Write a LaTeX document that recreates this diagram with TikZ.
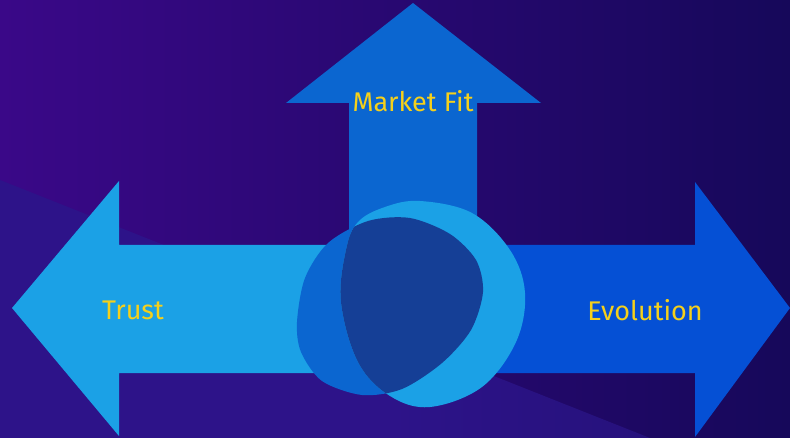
\documentclass[tikz,border=0pt]{standalone}
\usepackage{fontspec}
\setmainfont{Fira Sans}
\definecolor{bgleft}{HTML}{3A0888}
\definecolor{bgright}{HTML}{16085A}
\definecolor{bandedge}{HTML}{2A2AAE}
\definecolor{bandmid}{HTML}{2D1389}
\definecolor{bandright}{HTML}{1D0F6C}
\definecolor{upblue}{HTML}{0B66D0}
\definecolor{skyblue}{HTML}{1BA1E6}
\definecolor{deepblue}{HTML}{0550D5}
\definecolor{navyblue}{HTML}{153F96}
\definecolor{labelyellow}{HTML}{F5D01B}
\pgfdeclarehorizontalshading{bandshade}{100bp}{color(0bp)=(bandedge); color(8bp)=(bandmid); color(55bp)=(bandmid); color(100bp)=(bandright)}
\begin{document}
\begin{tikzpicture}[x=1pt,y=-1pt,
    label/.style={text=labelyellow,font=\fontsize{27}{32}\selectfont,inner sep=0pt}]
  \useasboundingbox (0,0) rectangle (790,438);
  % background
  \shade[left color=bgleft,right color=bgright] (0,0) rectangle (790,438);
  \shade[shading=bandshade] (0,180) -- (650,438) -- (0,438) -- cycle;
  % arrows
  \fill[upblue] (413,3) -- (541,103) -- (477,103) -- (477,260) -- (349,260) -- (349,103) -- (286,103) -- cycle;
  \fill[skyblue] (12,308) -- (119,181) -- (119,245) -- (340,245) -- (340,373) -- (119,373) -- (119,436) -- cycle;
  \fill[deepblue] (790,308) -- (695,182) -- (695,245) -- (480,245) -- (480,373) -- (695,373) -- (695,437) -- cycle;
  % blobs
  \def\blobleft{plot[smooth cycle] coordinates {(297,322) (305,278) (328,243) (368,221) (410,218) (450,234) (476,260) (483,292) (471,330) (442,363) (402,389) (362,395) (322,381) (301,352)}}
  \def\blobright{plot[smooth cycle,tension=0.6] coordinates {(358,222) (385,207) (420,201) (472,213) (510,250) (525,293) (516,342) (482,387) (430,407) (390,396) (358,362) (341,302) (346,250)}}
  \fill[upblue] \blobleft;
  \fill[skyblue] \blobright;
  \begin{scope}
    \clip \blobright;
    \fill[navyblue] \blobleft;
  \end{scope}
  % labels
  \node[label] (fit) at (413,101) {Market Fit};
  \node[label] (trust) at (133,310) {Trust};
  \node[label] (evo) at (645,310) {Evolution};
\end{tikzpicture}
\end{document}
